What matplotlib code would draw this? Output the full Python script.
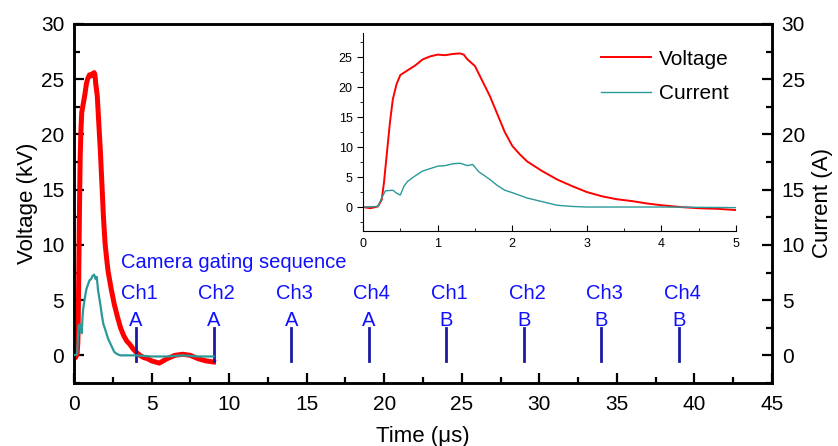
import matplotlib
matplotlib.use("Agg")
import matplotlib.pyplot as plt
from matplotlib.ticker import MultipleLocator

plt.rcParams['font.family'] = ['Liberation Sans', 'DejaVu Sans']

# waveform samples (time in us)
t_v = [0, 0.1, 0.2, 0.25, 0.28, 0.32, 0.36, 0.4, 0.45, 0.5, 0.6, 0.7, 0.8, 0.9, 1.0,
       1.1, 1.2, 1.3, 1.35, 1.4, 1.5, 1.6, 1.7, 1.8, 1.9, 2.0, 2.1, 2.2, 2.4, 2.6,
       2.8, 3.0, 3.2, 3.4, 3.6, 3.8, 4.0, 4.25, 4.5, 4.75, 5.0, 5.5, 6.0, 6.5, 7.0,
       7.5, 8.0, 8.5, 9.0]
voltage = [0, -0.2, 0.1, 1.2, 4, 9, 14, 18, 20.5, 22, 22.8, 23.6, 24.6, 25.1, 25.4,
           25.3, 25.5, 25.6, 25.4, 24.6, 23.5, 21, 18.5, 15.5, 12.5, 10.2, 8.8, 7.6, 6.0, 4.6,
           3.5, 2.5, 1.8, 1.3, 1.0, 0.6, 0.3, 0.0, -0.2, -0.3, -0.5, -0.7, -0.3, 0.0, 0.1,
           0.0, -0.3, -0.5, -0.6]

t_i = [0, 0.2, 0.25, 0.3, 0.4, 0.45, 0.5, 0.55, 0.6, 0.7, 0.8, 0.9, 1.0, 1.1, 1.2,
       1.3, 1.4, 1.47, 1.55, 1.7, 1.8, 1.9, 2.0, 2.2, 2.4, 2.6, 2.8, 3.0, 4.0, 5.0,
       6.0, 7.0, 8.0, 9.0]
current = [0, 0.1, 1.5, 2.7, 2.8, 2.3, 2.0, 3.5, 4.3, 5.2, 6.0, 6.4, 6.8, 6.9, 7.2,
           7.3, 6.9, 7.1, 5.9, 4.6, 3.6, 2.8, 2.4, 1.5, 0.9, 0.3, 0.1, 0.0, 0.0, -0.1,
           -0.1, 0.0, -0.1, -0.1]

# camera gates
gate_times = [4, 9, 14, 19, 24, 29, 34, 39]
gate_ch = ['Ch1', 'Ch2', 'Ch3', 'Ch4', 'Ch1', 'Ch2', 'Ch3', 'Ch4']
gate_cam = ['A', 'A', 'A', 'A', 'B', 'B', 'B', 'B']

red = '#ff0000'
teal = '#2a9a98'
blue = '#1010ff'
navy = '#1a1aa0'

fig = plt.figure(figsize=(8.38, 4.46), dpi=100)
ax = fig.add_axes([0.0883, 0.1413, 0.8329, 0.8049])
ax2 = ax.twinx()

ax.plot(t_v, voltage, color=red, lw=3.6, zorder=3)
ax2.plot(t_i, current, color=teal, lw=1.6, zorder=3)

for t, ch, cam in zip(gate_times, gate_ch, gate_cam):
    ax.plot([t, t], [-0.5, 2.5], color=navy, lw=2, zorder=4)
    ax.text(t, 3.2, cam, color=blue, fontsize=14.5, ha='center', va='center')
    ax.text(t + 0.2, 5.6, ch, color=blue, fontsize=14.5, ha='center', va='center')
ax.text(3.05, 8.4, 'Camera gating sequence', color=blue, fontsize=14.5,
        ha='left', va='center')

ax.set_xlim(0, 45)
ax.set_ylim(-2.5, 30)
ax2.set_ylim(-2.5, 30)
ax.xaxis.set_major_locator(MultipleLocator(5))
ax.xaxis.set_minor_locator(MultipleLocator(2.5))
for a in (ax, ax2):
    a.yaxis.set_major_locator(MultipleLocator(5))
    a.yaxis.set_minor_locator(MultipleLocator(2.5))
    a.tick_params(which='both', direction='in', labelsize=15, width=1.6, pad=7)
    a.tick_params(which='major', length=7)
    a.tick_params(which='minor', length=4)
    for s in a.spines.values():
        s.set_linewidth(1.8)
ax.tick_params(axis='x', which='both', top=False, pad=9)
ax.set_xlabel('Time (\u03bcs)', fontsize=16, labelpad=8)
ax.set_ylabel('Voltage (kV)', fontsize=16, labelpad=2)
ax2.set_ylabel('Current (A)', fontsize=16, labelpad=5)

# inset zoom of the first 5 us
ins = fig.add_axes([0.4332, 0.482, 0.4451, 0.444])
ins.plot(t_v, voltage, color=red, lw=1.4, label='Voltage')
ins.plot(t_i, current, color=teal, lw=1.0, label='Current')
ins.set_xlim(0, 5)
ins.set_ylim(-4, 29)
ins.xaxis.set_major_locator(MultipleLocator(1))
ins.xaxis.set_minor_locator(MultipleLocator(0.5))
ins.yaxis.set_major_locator(MultipleLocator(5))
ins.yaxis.set_minor_locator(MultipleLocator(2.5))
ins.spines['top'].set_visible(False)
ins.spines['right'].set_visible(False)
ins.tick_params(axis='y', which='both', direction='out', labelsize=9)
ins.tick_params(axis='x', which='both', direction='in', labelsize=9, pad=5)
ins.tick_params(which='major', length=4)
ins.tick_params(which='minor', length=2)
ins.patch.set_alpha(0)
ins.legend(loc='upper right', frameon=False, fontsize=15, handlelength=2.4,
           handletextpad=0.35, labelspacing=0.75, bbox_to_anchor=(1.03, 1.01))

fig.savefig('out.png', dpi=100)
